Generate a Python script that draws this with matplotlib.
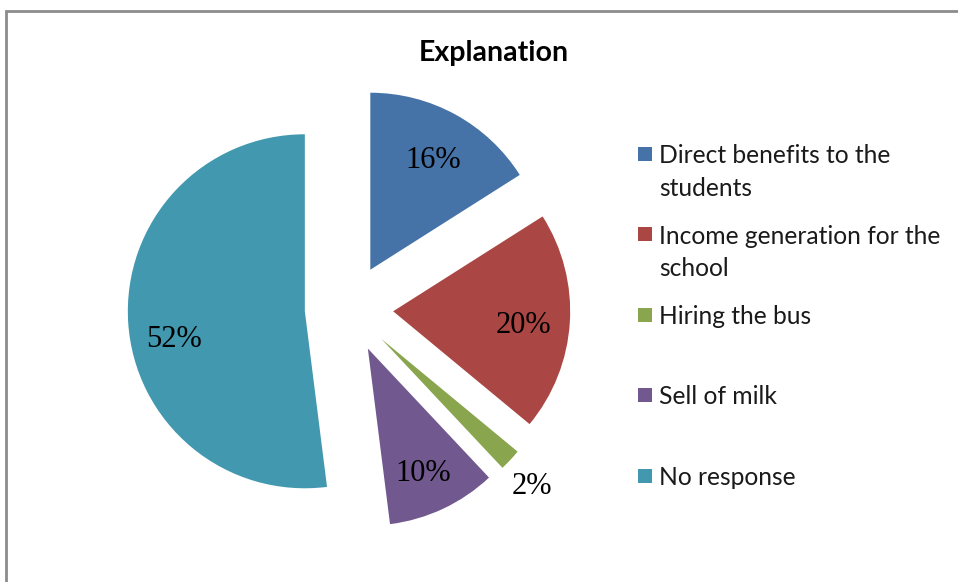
import matplotlib
matplotlib.use('Agg')
import numpy as np
import matplotlib.pyplot as plt
from matplotlib.patches import Rectangle

# ---------- 数据 ----------
categories = ['Direct benefits to the\nstudents',
              'Income generation for the\nschool',
              'Hiring the bus',
              'Sell of milk',
              'No response']
values = [16, 20, 2, 10, 52]
colors = ['#4572A7', '#AA4643', '#89A54E', '#71588F', '#4198AF']
title = 'Explanation'

W, H = 958, 582
fig = plt.figure(figsize=(W / 100, H / 100), dpi=100)

# 饼图区域：半径约 177 px，中心 (349, 308.5)
r_px = 177
L = 1.5
side = 2 * L * r_px
cx, cy = 349, H - 308.5
explode = 0.25
ax = fig.add_axes([(cx - side / 2) / W, (cy - side / 2) / H, side / W, side / H])
wedges, texts, autotexts = ax.pie(values, colors=colors, startangle=90, counterclock=False,
                                  explode=[explode] * len(values), autopct='%1.0f%%',
                                  pctdistance=0.74, radius=1,
                                  textprops=dict(family='Liberation Serif', fontsize=22))
# 标签位置微调：整体略向下，2% 放到扇区外面
dy = -6 / r_px
for i, (w, t) in enumerate(zip(wedges, autotexts)):
    ang = np.deg2rad((w.theta1 + w.theta2) / 2)
    dist = explode + (1.17 if values[i] == 2 else 0.74)
    t.set_position((dist * np.cos(ang), dist * np.sin(ang) + dy))
# 52% 标签在参考图中偏下
x, y = autotexts[4].get_position()
autotexts[4].set_position((x, y - 14 / r_px))
ax.set_xlim(-L, L)
ax.set_ylim(-L, L)
ax.set_aspect('equal')
ax.axis('off')

fig.text(494 / W, 1 - 61 / H, title, ha='center', va='baseline',
         family='Lato', fontweight='bold', fontsize=20.5)

# 图例（手动排列）
for i, (name, c) in enumerate(zip(categories, colors)):
    yc = 153.5 + 80.5 * i
    fig.patches.append(Rectangle((638 / W, 1 - (yc + 7) / H), 14 / W, 14 / H,
                                 transform=fig.transFigure, facecolor=c, edgecolor='none'))
    fig.text(659 / W, 1 - (yc - 9.5) / H, name, ha='left', va='top',
             family='Lato', fontsize=17.7, linespacing=1.5, color='#1a1a1a')

# 外框
fig.patches.append(Rectangle((6 / W, -0.1), 1.1, 1 - 11 / H + 0.1, transform=fig.transFigure,
                             fill=False, edgecolor='#8c8c8c', linewidth=2))

fig.savefig('out.png', dpi=100)
